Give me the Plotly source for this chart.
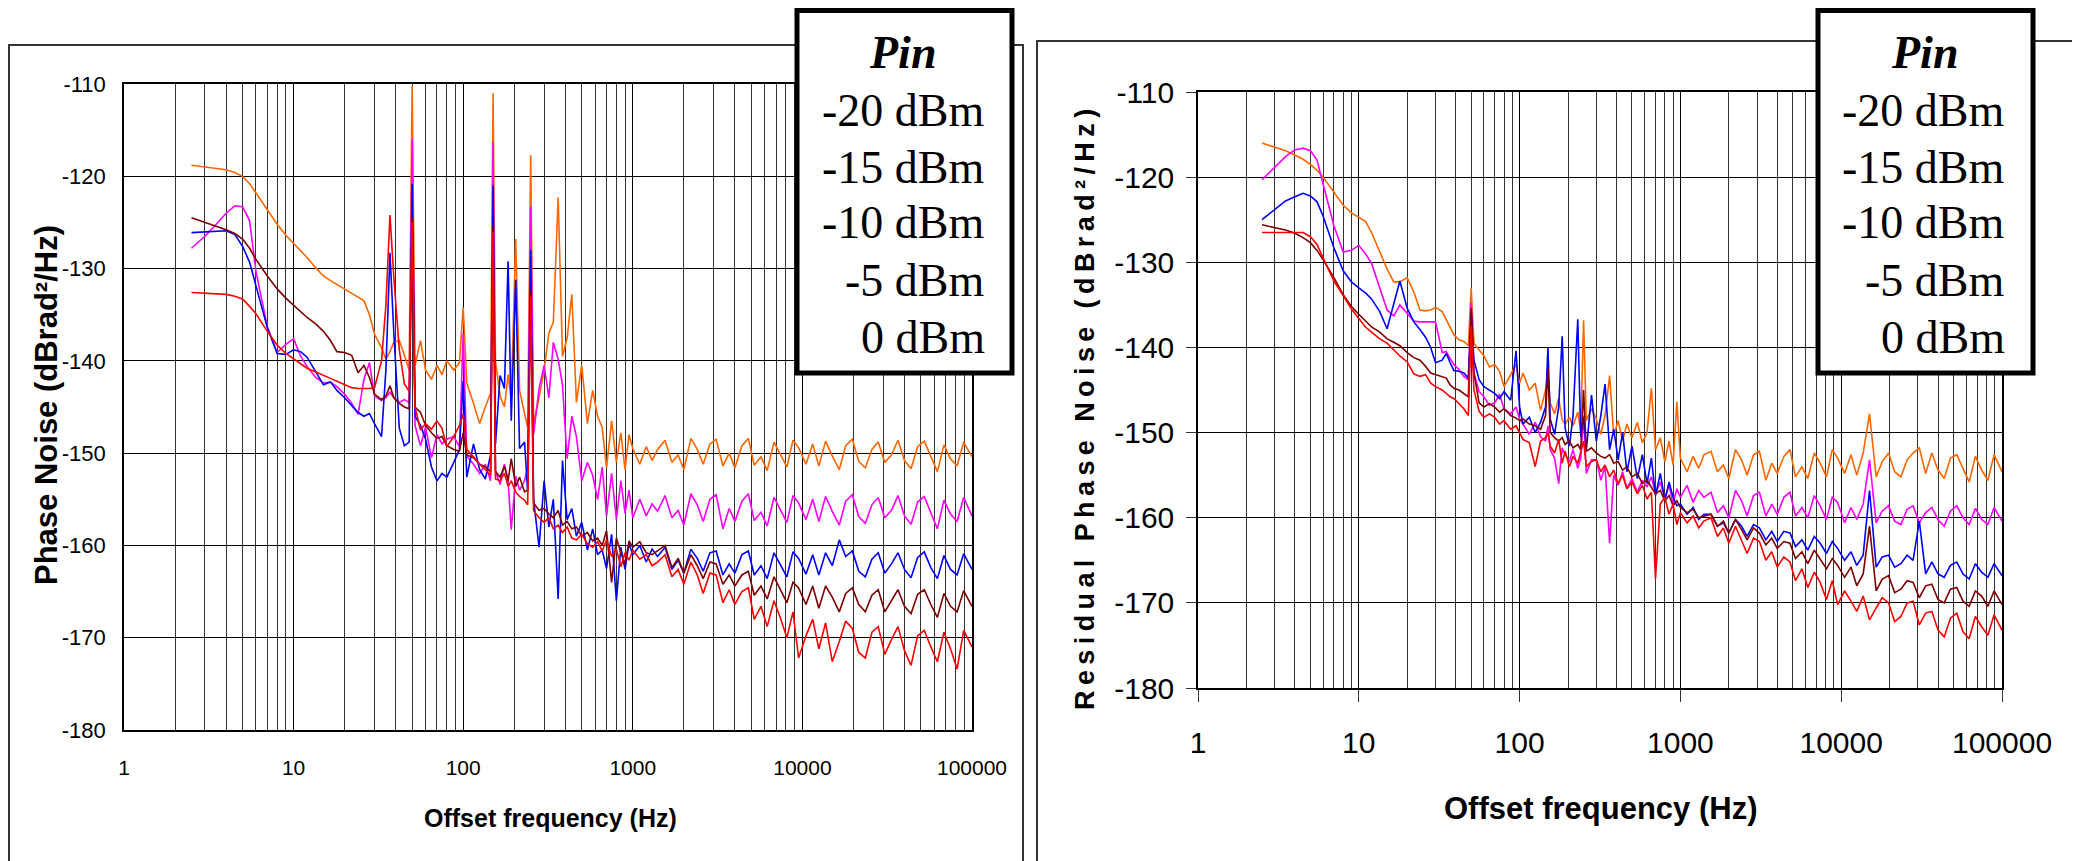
import plotly.graph_objects as go

# ---------------- data ----------------
FREQ = [
    2.5, 3, 3.5, 4, 4.5, 5, 5.5, 6, 7, 8, 9, 10,
    11, 12, 13.5, 15, 16.5, 18, 20, 22, 24, 26, 28, 30,
    33, 35, 37, 39, 42, 45, 48, 50, 52, 56, 60, 65,
    70, 75, 80, 88, 95, 100, 105, 115, 125, 135, 145, 150,
    155, 165, 175, 184, 192, 204, 215, 230, 240, 250, 260, 280,
    300, 320, 340, 363, 385, 410, 437, 465, 500, 540, 580, 620,
    660, 700, 750, 800, 850, 900, 950, 1000, 1100, 1200, 1300, 1400,
    1550, 1700, 1850, 2000, 2200, 2400, 2600, 2850, 3100, 3400, 3700, 4000,
    4400, 4800, 5200, 5700, 6200, 6800, 7400, 8100, 8800, 9500, 10500, 11500,
    12500, 13700, 15000, 16500, 18000, 19700, 21500, 23500, 25700, 28000, 30600, 33500,
    36600, 40000, 43700, 47800, 52300, 57200, 62500, 68300, 74700, 81700, 89300, 100000,
]

SERIES_NAMES = ["-20 dBm", "-15 dBm", "-10 dBm", "-5 dBm", "0 dBm"]
SERIES_COLORS = ["#FF6600", "#FF00FF", "#0000FF", "#800000", "#FF0000"]

# Left panel: Phase Noise (dBrad²/Hz)
L_M20 = [
    -118.8, -119.0, -119.2, -119.3, -119.6, -120.0, -120.8, -121.8, -123.6, -125.2, -126.4, -127.3,
    -128.0, -128.8, -129.9, -130.8, -131.3, -131.7, -132.2, -132.7, -133.1, -133.5, -135.0, -137.1,
    -138.6, -139.8, -139.0, -138.0, -137.8, -139.4, -141.0, -110.2, -140.5, -137.8, -141.0, -142.0,
    -140.5, -141.5, -140.0, -141.0, -140.2, -134.2, -142.4, -144.6, -146.8, -145.0, -143.5, -111.0,
    -140.0, -143.8, -145.0, -141.5, -144.2, -126.8, -143.2, -145.7, -147.2, -117.7, -146.8, -144.0,
    -141.0, -137.0, -135.8, -122.3, -139.5, -137.5, -132.8, -144.5, -140.5, -146.8, -143.2, -146.0,
    -147.2, -151.6, -146.5, -151.0, -147.8, -151.8, -148.0, -149.5, -151.2, -149.3, -150.8, -149.6,
    -148.6, -151.0, -150.2, -151.8, -148.4, -149.6, -151.2, -149.0, -148.5, -151.4, -150.0, -151.6,
    -149.2, -148.4, -151.3, -150.4, -151.9, -148.8, -150.1, -151.5, -148.6, -149.4, -151.2, -149.0,
    -151.4, -148.7, -150.3, -151.8, -149.2, -148.5, -150.9, -151.6, -149.6, -148.8, -151.0, -150.2,
    -148.6, -150.8, -151.7, -149.3, -148.7, -150.4, -152.0, -149.1, -150.6, -151.4, -148.8, -150.4,
]
L_M15 = [
    -127.8, -126.5, -125.2, -124.0, -123.2, -123.3, -124.8, -130.3, -136.3, -139.1, -138.2, -137.6,
    -139.5, -140.6, -141.8, -142.4, -142.3, -142.8, -143.6, -144.6, -145.8, -142.0, -140.2, -143.8,
    -144.3, -144.0, -143.4, -144.0, -144.5, -144.2, -144.5, -116.0, -147.0, -149.2, -147.2, -150.5,
    -148.0, -149.0, -148.5, -148.2, -149.3, -137.0, -150.3, -151.2, -152.2, -151.2, -153.0, -116.3,
    -152.0, -153.4, -151.2, -153.0, -158.3, -152.5, -154.0, -153.0, -151.5, -123.3, -148.0, -143.0,
    -140.5, -144.0, -138.0, -139.8, -142.6, -150.6, -146.0, -148.2, -153.0, -151.0, -152.4, -155.0,
    -151.5, -156.8, -152.2, -157.2, -153.0, -156.5, -154.0, -157.0, -155.0, -156.8, -155.5, -156.3,
    -154.6, -157.0, -156.2, -157.8, -154.4, -155.6, -157.4, -155.0, -154.5, -158.2, -156.0, -157.4,
    -155.2, -154.4, -157.3, -156.4, -157.9, -154.8, -156.1, -157.5, -154.6, -155.4, -157.2, -155.0,
    -157.4, -154.7, -156.3, -157.8, -155.2, -154.5, -156.9, -157.6, -155.6, -154.8, -157.0, -156.2,
    -154.6, -156.8, -157.7, -155.3, -154.7, -156.4, -158.2, -155.1, -156.6, -157.4, -154.8, -156.8,
]
L_M10 = [
    -126.1, -126.0, -125.9, -125.9, -126.3, -127.6, -129.3, -131.9, -136.4, -139.2, -139.3, -138.8,
    -139.0, -139.6, -141.2, -142.6, -142.3, -143.2, -144.0, -144.8, -145.6, -146.0, -145.7, -146.8,
    -148.2, -141.0, -128.3, -137.0, -147.3, -149.2, -148.8, -120.8, -146.0, -147.0, -148.5, -151.5,
    -153.0, -152.2, -152.6, -151.0, -149.6, -142.2, -152.6, -149.0, -151.8, -152.8, -150.2, -121.0,
    -149.0, -141.6, -143.0, -129.2, -146.5, -131.2, -149.5, -148.8, -154.2, -128.0, -155.0, -160.2,
    -153.0, -158.0, -155.0, -165.8, -150.8, -157.2, -156.0, -159.0, -157.5, -160.5, -158.2, -161.0,
    -160.5, -162.5, -158.8, -166.0, -160.2, -162.6, -159.8, -161.0, -160.0, -161.8, -160.4, -161.2,
    -160.2, -162.6, -161.6, -163.0, -160.4, -161.4, -162.8, -160.8, -160.6, -163.2, -162.0, -163.0,
    -161.0, -160.6, -163.2, -162.2, -163.6, -160.8, -162.0, -163.4, -160.7, -161.4, -163.1, -161.0,
    -163.2, -160.8, -162.2, -159.4, -161.2, -160.6, -162.8, -163.4, -161.5, -160.8, -163.0, -162.0,
    -160.8, -162.6, -163.5, -161.3, -160.7, -162.4, -163.6, -161.1, -162.6, -163.2, -160.9, -162.6,
]
L_M5 = [
    -124.5, -125.0, -125.4, -125.8, -126.2, -126.8, -127.8, -129.0, -130.8, -132.2, -133.2, -134.0,
    -134.7, -135.3, -136.0, -136.8, -137.8, -139.0, -139.1, -139.4, -141.3, -140.5, -141.8, -143.6,
    -144.2, -143.8, -142.7, -144.0, -144.6, -145.0, -145.2, -124.5, -145.0, -145.6, -147.0, -147.8,
    -148.4, -148.2, -149.2, -149.6, -149.8, -147.8, -150.2, -150.5, -151.2, -151.5, -152.0, -125.3,
    -152.0, -152.6, -151.4, -153.0, -150.6, -153.6, -152.6, -154.2, -154.0, -132.4, -155.4, -156.2,
    -156.0, -156.6, -157.0, -156.2, -157.8, -157.4, -158.2, -158.0, -159.0, -158.6, -159.5, -159.2,
    -160.0, -158.4, -164.0, -159.2, -160.8, -162.0, -159.5, -160.2, -159.6, -160.8, -161.0, -160.6,
    -160.0, -162.4, -161.4, -163.0, -161.0, -162.2, -163.6, -161.8, -162.0, -164.2, -163.2, -164.4,
    -163.2, -162.8, -165.4, -164.4, -165.8, -163.4, -164.8, -166.2, -164.0, -164.6, -166.4, -164.4,
    -166.8, -164.4, -165.6, -167.2, -165.2, -164.6, -166.4, -167.2, -165.4, -164.8, -167.2, -166.0,
    -164.8, -166.6, -167.4, -165.3, -164.8, -166.4, -167.8, -165.2, -166.6, -167.2, -164.9, -166.6,
]
L_0 = [
    -132.6, -132.7, -132.8, -132.8, -133.0, -133.3, -134.1, -134.9, -136.8, -138.3, -139.2, -139.8,
    -140.3, -140.8, -141.2, -141.6, -141.9, -142.2, -142.6, -142.9, -143.0, -143.0, -143.0, -142.9,
    -140.0, -134.0, -124.2, -131.0, -138.8, -142.5, -143.3, -125.0, -145.0, -147.5, -146.8, -147.4,
    -146.5, -147.3, -149.3, -148.2, -147.0, -145.8, -149.6, -150.4, -151.2, -151.8, -152.4, -126.0,
    -152.8, -153.0, -152.2, -153.6, -153.0, -154.2, -154.7, -155.1, -155.6, -133.0, -156.2, -157.0,
    -157.5, -157.0, -158.2, -157.8, -158.6, -158.0, -159.2, -159.4, -158.8, -159.8, -160.2, -159.6,
    -160.6, -159.4, -161.2, -160.4, -162.3, -160.8, -161.6, -160.5, -161.5, -161.0, -162.2, -161.8,
    -161.0, -163.4, -162.6, -164.2, -161.8, -163.2, -165.2, -163.0, -163.2, -166.2, -164.8, -166.4,
    -165.0, -164.6, -168.0, -166.6, -168.8, -166.0, -167.8, -170.0, -167.2, -172.2, -169.8, -168.0,
    -171.2, -168.4, -172.6, -170.4, -168.2, -169.0, -171.6, -172.2, -169.4, -168.8, -171.8, -170.2,
    -168.8, -171.4, -173.0, -169.8, -169.2, -171.0, -172.6, -169.4, -171.2, -173.4, -169.2, -171.0,
]

# Right panel: Residual Phase Noise (dBrad²/Hz)
R_M20 = [
    -116.0, -116.5, -116.9, -117.4, -117.9, -118.5, -119.2, -120.0, -121.8, -123.3, -124.2, -124.7,
    -125.2, -126.5, -128.8, -130.8, -132.3, -132.3, -131.8, -133.5, -135.6, -135.7, -135.6, -135.3,
    -135.8, -136.8, -137.8, -138.5, -139.1, -139.3, -139.8, -133.0, -139.5, -140.3, -141.0, -142.3,
    -142.0, -142.8, -144.6, -143.2, -142.0, -144.2, -143.0, -145.0, -144.2, -147.4, -145.0, -143.0,
    -146.5, -147.8, -146.0, -148.5, -149.0, -148.2, -149.2, -147.6, -149.8, -136.8, -148.6, -147.2,
    -148.4, -150.2, -148.0, -143.3, -150.4, -148.6, -151.0, -149.0, -150.6, -148.8, -151.2, -150.0,
    -144.8, -152.0, -150.6, -153.4, -151.0, -153.8, -146.4, -153.0, -154.6, -152.8, -154.2, -152.6,
    -152.2, -154.6, -153.8, -155.4, -152.0, -153.2, -155.0, -152.6, -152.2, -155.6, -153.6, -154.8,
    -152.8, -152.0, -155.2, -154.0, -155.4, -152.4, -153.6, -155.2, -152.0, -153.0, -154.8, -152.6,
    -155.0, -152.4, -147.8, -155.2, -153.4, -152.4, -154.6, -155.2, -153.2, -152.4, -151.8, -154.8,
    -152.4, -154.4, -155.4, -153.0, -152.6, -154.2, -155.8, -152.8, -154.4, -155.6, -152.6, -154.6,
]
R_M15 = [
    -120.3, -118.8, -117.6, -116.8, -116.6, -116.9, -118.0, -120.8, -125.7, -128.8, -128.6, -128.0,
    -129.0, -130.1, -132.9, -135.6, -136.3, -135.0, -136.0, -136.9, -137.0, -137.0, -137.0, -137.0,
    -140.6, -140.5, -141.3, -142.0, -142.6, -143.4, -143.8, -134.8, -143.0, -145.2, -145.8, -146.8,
    -146.5, -145.5, -147.2, -147.8, -147.0, -148.4, -149.0, -150.2, -148.8, -150.5, -151.0, -149.2,
    -152.0, -153.0, -156.0, -151.8, -152.6, -153.4, -152.0, -154.2, -153.0, -148.0, -154.8, -153.2,
    -153.2, -155.6, -154.0, -163.0, -155.0, -156.2, -154.6, -156.6, -155.4, -157.0, -155.6, -156.4,
    -155.2, -157.2, -155.8, -157.8, -156.2, -158.4, -156.6, -157.6, -156.2, -158.2, -156.8, -157.6,
    -157.0, -159.4, -158.6, -160.0, -156.8, -158.0, -159.8, -157.4, -157.0, -159.8, -158.4, -159.6,
    -157.6, -157.0, -159.8, -158.8, -160.0, -157.4, -158.6, -160.2, -157.6, -158.2, -160.6, -158.8,
    -160.2, -158.4, -153.2, -160.6, -159.2, -158.6, -160.4, -160.8, -159.0, -158.6, -160.6, -159.4,
    -158.8, -160.2, -161.0, -159.2, -158.6, -160.0, -160.8, -158.9, -160.2, -160.8, -158.8, -160.4,
]
R_M10 = [
    -125.0, -123.8, -122.8, -122.3, -121.9, -122.2, -122.9, -124.6, -128.3, -131.0, -132.3, -133.0,
    -133.6, -134.3, -135.8, -137.8, -135.0, -132.2, -135.4, -137.0, -137.9, -138.8, -140.0, -141.8,
    -141.5, -140.7, -141.8, -142.7, -142.8, -143.0, -143.6, -136.0, -141.5, -143.8, -144.6, -145.0,
    -145.4, -146.0, -145.2, -146.2, -140.4, -147.0, -149.0, -148.2, -150.0, -148.8, -147.0, -140.0,
    -148.4, -150.2, -147.0, -138.7, -149.5, -151.6, -148.0, -136.7, -150.5, -148.2, -152.0, -145.6,
    -151.0, -148.0, -144.3, -152.0, -149.6, -153.2, -150.0, -154.6, -151.6, -155.4, -152.6, -156.0,
    -153.0, -157.4, -154.8, -158.0, -155.8, -157.6, -158.6, -158.4, -159.6, -158.8, -160.2, -159.6,
    -159.6, -161.0, -160.6, -161.8, -160.2, -161.0, -162.2, -160.8, -161.2, -162.6, -161.6, -162.8,
    -161.6, -161.8, -163.4, -162.6, -163.8, -162.2, -163.0, -164.2, -162.8, -163.6, -165.0, -164.0,
    -165.6, -164.4, -156.8, -165.8, -164.6, -164.4, -165.8, -165.4, -164.4, -165.0, -160.4, -166.6,
    -165.2, -166.6, -167.0, -165.6, -165.2, -166.6, -167.2, -165.4, -166.4, -167.0, -165.4, -166.8,
]
R_M5 = [
    -125.6, -125.9, -126.2, -126.6, -127.1, -127.7, -128.6, -129.7, -131.8, -133.8, -135.2, -136.1,
    -136.9, -137.6, -138.2, -139.0, -139.4, -139.8, -140.6, -141.2, -141.5, -142.2, -143.0, -143.2,
    -143.4, -143.6, -144.4, -144.8, -145.0, -145.4, -145.8, -135.4, -143.0, -146.5, -147.0, -146.6,
    -147.0, -147.6, -147.2, -148.0, -148.3, -148.6, -148.4, -149.0, -149.2, -149.6, -148.0, -142.4,
    -150.0, -150.6, -151.0, -150.6, -151.4, -151.0, -151.8, -151.4, -152.0, -145.0, -152.2, -151.8,
    -152.4, -152.8, -153.0, -152.6, -153.6, -153.4, -154.4, -154.0, -155.2, -154.8, -156.0, -155.6,
    -156.4, -157.2, -156.8, -158.0, -157.4, -158.6, -158.0, -158.8, -159.4, -159.0, -160.0, -159.8,
    -159.6, -161.0, -160.4, -161.8, -160.2, -161.4, -162.6, -161.2, -161.8, -163.2, -162.4, -163.6,
    -162.8, -163.0, -164.8, -164.0, -165.4, -163.8, -164.8, -166.0, -164.8, -165.6, -167.0, -165.8,
    -168.0, -166.6, -161.0, -168.6, -167.2, -166.8, -168.8, -168.4, -167.4, -167.6, -169.4, -168.0,
    -167.8, -169.6, -170.0, -168.4, -168.2, -169.8, -170.4, -168.6, -169.2, -170.4, -168.6, -170.2,
]
R_0 = [
    -126.5, -126.5, -126.5, -126.5, -126.5, -127.0, -127.9, -129.5, -132.2, -133.9, -135.5, -136.6,
    -137.6, -138.2, -139.0, -139.5, -140.3, -141.0, -141.7, -143.1, -143.4, -143.2, -144.2, -144.6,
    -145.0, -145.4, -145.8, -146.0, -146.6, -147.2, -148.0, -137.5, -145.0, -147.5, -148.2, -147.8,
    -148.2, -149.0, -148.6, -149.6, -149.2, -150.0, -150.8, -151.2, -154.0, -151.0, -150.6, -150.0,
    -151.6, -152.4, -150.8, -153.6, -152.2, -154.0, -152.8, -153.6, -152.4, -151.0, -154.0, -153.4,
    -153.2, -154.6, -153.8, -155.2, -154.4, -156.0, -155.0, -156.6, -155.8, -157.2, -156.2, -157.8,
    -157.0, -167.2, -158.4, -157.6, -159.6, -158.4, -160.8, -159.4, -160.6, -159.8, -161.2, -160.4,
    -160.0, -162.2, -161.2, -163.0, -161.0, -162.6, -164.2, -162.4, -162.8, -165.0, -164.0, -165.8,
    -164.6, -165.2, -167.4, -166.0, -168.2, -166.4, -167.6, -169.6, -167.4, -170.2, -168.6, -169.8,
    -171.0, -169.2, -172.0, -170.6, -169.4, -170.0, -172.2, -171.6, -170.0, -169.8, -172.6, -171.2,
    -171.0, -173.2, -174.0, -171.8, -171.2, -173.4, -174.2, -171.6, -172.8, -173.8, -171.4, -173.2,
]

LEFT_SERIES = [L_M20, L_M15, L_M10, L_M5, L_0]
RIGHT_SERIES = [R_M20, R_M15, R_M10, R_M5, R_0]

X_DECADES = [1, 10, 100, 1000, 10000, 100000]
X_TICK_LABELS = ["1", "10", "100", "1000", "10000", "100000"]
Y_TICKS = [-180, -170, -160, -150, -140, -130, -120, -110]
Y_TICK_LABELS = ["-180", "-170", "-160", "-150", "-140", "-130", "-120", "-110"]

LEFT_YTITLE = "Phase Noise (dBrad²/Hz)"
RIGHT_YTITLE = "Residual Phase Noise (dBrad²/Hz)"
XTITLE = "Offset frequency (Hz)"
LEGEND_TITLE = "Pin"

# ---------------- figure ----------------
W, H = 2080, 861
OFF = 8  # page body margin offset of the plot div
def px(x):
    return (x - OFF) / W
def py(y):
    return 1 - (y - OFF) / H

minor_vals = [m * d for d in X_DECADES[:-1] for m in range(2, 10)]

ARIAL = "Liberation Sans, Arial, sans-serif"
SERIF = "Liberation Serif, Times New Roman, serif"

fig = go.Figure()
for vals, name, col in zip(LEFT_SERIES, SERIES_NAMES, SERIES_COLORS):
    fig.add_trace(go.Scatter(x=FREQ, y=vals, mode="lines", name=name,
                             line=dict(color=col, width=1.6), xaxis="x", yaxis="y",
                             showlegend=False))
for vals, name, col in zip(RIGHT_SERIES, SERIES_NAMES, SERIES_COLORS):
    fig.add_trace(go.Scatter(x=FREQ, y=vals, mode="lines", name=name,
                             line=dict(color=col, width=1.6), xaxis="x2", yaxis="y2",
                             showlegend=False))

common_x = dict(type="log", range=[0, 5], tickmode="array", tickvals=X_DECADES,
                ticktext=X_TICK_LABELS, showgrid=True, gridcolor="#000", gridwidth=1,
                showline=True, mirror=True, linecolor="#000", linewidth=2, zeroline=False,
                automargin=False,
                minor=dict(tickmode="array", tickvals=minor_vals, showgrid=True,
                           gridcolor="#333", gridwidth=1, ticks=""))
common_y = dict(range=[-180, -110], tickmode="array", tickvals=Y_TICKS,
                ticktext=Y_TICK_LABELS,
                showgrid=True, gridcolor="#000", gridwidth=1.3, showline=True,
                mirror=True, linecolor="#000", linewidth=1.5, zeroline=False,
                automargin=False)

fig.update_layout(
    width=W, height=H, autosize=False,
    margin=dict(l=0, r=0, t=0, b=0, pad=0, autoexpand=False),
    paper_bgcolor="white", plot_bgcolor="white",
    showlegend=False,
    xaxis=dict(common_x, domain=[px(124), px(972)], anchor="y",
               ticks="outside", ticklen=18, tickcolor="rgba(0,0,0,0)",
               tickfont=dict(family=ARIAL, size=21, color="#000")),
    yaxis=dict(common_y, domain=[py(730), py(84)], anchor="x",
               ticks="outside", ticklen=12, tickcolor="rgba(0,0,0,0)",
               tickfont=dict(family=ARIAL, size=22, color="#000")),
    xaxis2=dict(common_x, domain=[px(1198), px(2002)], anchor="y2",
                ticks="outside", ticklen=12, tickcolor="#333", tickwidth=1,
                tickfont=dict(family=ARIAL, size=30, color="#000"), ticklabelstandoff=15),
    yaxis2=dict(common_y, domain=[py(688), py(92)], anchor="x2",
                ticks="outside", ticklen=10, tickcolor="#333", tickwidth=1,
                tickfont=dict(family=ARIAL, size=30, color="#000"), ticklabelstandoff=6),
)

shapes = []
# panel frames
shapes.append(dict(type="rect", xref="paper", yref="paper", x0=px(9), x1=px(1023),
                   y0=-0.05, y1=py(45), line=dict(color="#333", width=2),
                   fillcolor="rgba(0,0,0,0)", layer="below"))
shapes.append(dict(type="rect", xref="paper", yref="paper", x0=px(1037), x1=px(2073),
                   y0=-0.05, y1=py(41), line=dict(color="#333", width=2),
                   fillcolor="rgba(0,0,0,0)", layer="below"))
# legend boxes
for x0, x1 in [(797, 1012), (1818, 2033)]:
    shapes.append(dict(type="rect", xref="paper", yref="paper", x0=px(x0), x1=px(x1),
                       y0=py(373), y1=py(10.5), line=dict(color="#000", width=5),
                       fillcolor="white", layer="above"))
fig.update_layout(shapes=shapes)

ann = []
# legend texts
for cx, rx in [(902, 987), (1924, 2007)]:
    ann.append(dict(x=px(cx), y=py(52), xref="paper", yref="paper",
                    text="<b><i>" + LEGEND_TITLE + "</i></b>", showarrow=False,
                    xanchor="center", yanchor="middle",
                    font=dict(family=SERIF, size=46, color="#000")))
    for name, yy in zip(SERIES_NAMES, [110, 167, 223, 280, 337]):
        ann.append(dict(x=px(rx), y=py(yy), xref="paper", yref="paper", text=name,
                        showarrow=False, xanchor="right", yanchor="middle",
                        font=dict(family=SERIF, size=46, color="#000")))
# axis titles
ann.append(dict(x=px(46), y=py(405), xref="paper", yref="paper",
                text="<b>" + LEFT_YTITLE + "</b>", textangle=-90, showarrow=False,
                xanchor="center", yanchor="middle",
                font=dict(family=ARIAL, size=31, color="#000")))
ann.append(dict(x=px(550), y=py(818), xref="paper", yref="paper",
                text="<b>" + XTITLE + "</b>", showarrow=False,
                xanchor="center", yanchor="middle",
                font=dict(family=ARIAL, size=25, color="#000")))
spaced = "\u2009".join(list(RIGHT_YTITLE))
ann.append(dict(x=px(1085), y=py(410), xref="paper", yref="paper",
                text="<b>" + spaced + "</b>", textangle=-90, showarrow=False,
                xanchor="center", yanchor="middle",
                font=dict(family=ARIAL, size=27, color="#000")))
ann.append(dict(x=px(1600), y=py(808), xref="paper", yref="paper",
                text="<b>" + XTITLE + "</b>", showarrow=False,
                xanchor="center", yanchor="middle",
                font=dict(family=ARIAL, size=31, color="#000")))
fig.update_layout(annotations=ann)

fig.write_html("out.html")
